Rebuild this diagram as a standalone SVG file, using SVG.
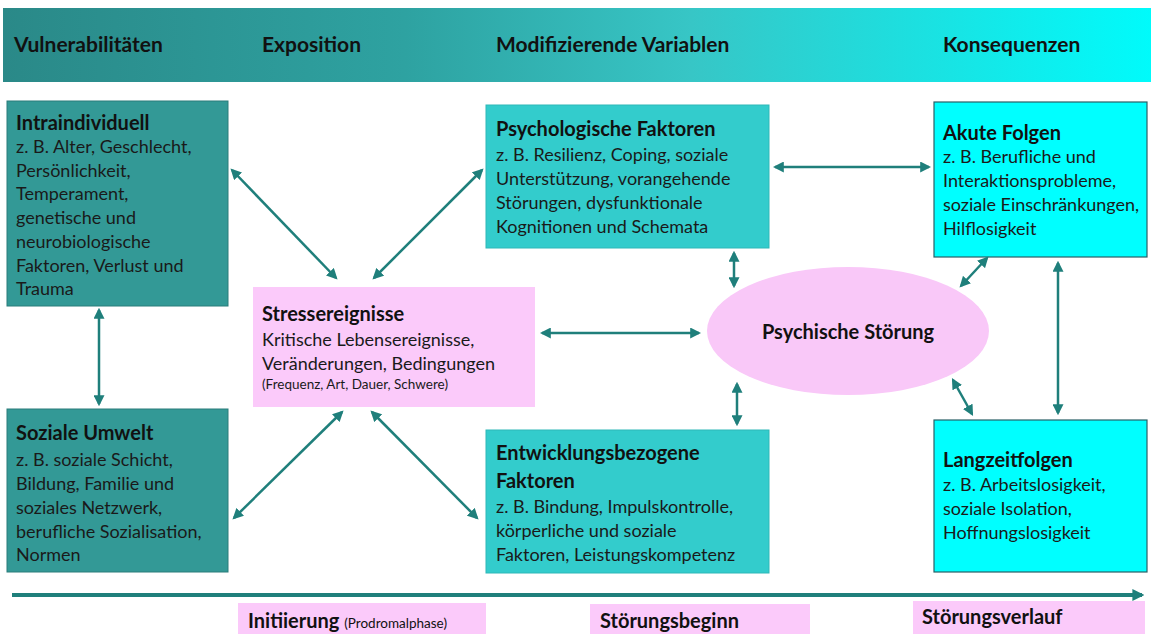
<svg xmlns="http://www.w3.org/2000/svg" width="1151" height="634" viewBox="0 0 1151 634">
<defs>
<linearGradient id="hdr" x1="0" y1="0" x2="1" y2="0">
<stop offset="0" stop-color="#2a8988"/>
<stop offset="0.35" stop-color="#2ea2a1"/>
<stop offset="0.6" stop-color="#37c6c6"/>
<stop offset="1" stop-color="#00fbfb"/>
</linearGradient>
<marker id="ah" viewBox="0 0 10 10" refX="8" refY="5" markerWidth="4.4" markerHeight="4.4" orient="auto-start-reverse" markerUnits="strokeWidth">
<path d="M0,0 L10,5 L0,10 Z" fill="#1f7f7b"/>
</marker>
<marker id="ah2" viewBox="0 0 10 10" refX="8" refY="5" markerWidth="3" markerHeight="3" orient="auto" markerUnits="strokeWidth">
<path d="M0,0 L10,5 L0,10 Z" fill="#1f7f7b"/>
</marker>
</defs>
<style>
text{font-family:Lato,"Liberation Sans",sans-serif;fill:#1a1a1a}
.h{font-size:21px;font-weight:bold;fill:#111}
.t{font-size:20px;font-weight:bold;fill:#111}
.b{font-size:18px}
.s{font-size:13.5px}
.teal{fill:#339996;stroke:#2a7c7a;stroke-width:1}
.tq{fill:#33cccc;stroke:#2fb8b8;stroke-width:1}
.cy{fill:#00ffff;stroke:#2a5f66;stroke-width:1.2}
.pk{fill:#fbcafa;stroke:none}
.c{stroke:#1f7f7b;stroke-width:2.5;fill:none;marker-start:url(#ah);marker-end:url(#ah)}
</style>
<rect width="1151" height="634" fill="#ffffff"/>
<g id="header">
<rect x="3" y="8" width="1148" height="74" fill="url(#hdr)"/>
<text class="h" x="14" y="52">Vulnerabilitäten</text>
<text class="h" x="262" y="52">Exposition</text>
<text class="h" x="496" y="52">Modifizierende Variablen</text>
<text class="h" x="943" y="52">Konsequenzen</text>
</g>
<g id="intraindividuell">
<rect class="teal" x="7" y="101" width="221" height="205"/>
<text class="t" x="16" y="130">Intraindividuell</text>
<text class="b" x="16" y="153">z. B. Alter, Geschlecht,</text>
<text class="b" x="16" y="177">Persönlichkeit,</text>
<text class="b" x="16" y="200">Temperament,</text>
<text class="b" x="16" y="224">genetische und</text>
<text class="b" x="16" y="248">neurobiologische</text>
<text class="b" x="16" y="272">Faktoren, Verlust und</text>
<text class="b" x="16" y="295">Trauma</text>
</g>
<g id="soziale-umwelt">
<rect class="teal" x="7" y="409" width="221" height="163"/>
<text class="t" x="16" y="440">Soziale Umwelt</text>
<text class="b" x="16" y="466">z. B. soziale Schicht,</text>
<text class="b" x="16" y="490">Bildung, Familie und</text>
<text class="b" x="16" y="514">soziales Netzwerk,</text>
<text class="b" x="16" y="538">berufliche Sozialisation,</text>
<text class="b" x="16" y="561">Normen</text>
</g>
<g id="stressereignisse">
<rect class="pk" x="253" y="287" width="282" height="120"/>
<text class="t" x="262" y="321">Stressereignisse</text>
<text class="b" x="262" y="346">Kritische Lebensereignisse,</text>
<text class="b" x="262" y="370">Veränderungen,  Bedingungen</text>
<text class="s" x="262" y="389">(Frequenz, Art, Dauer, Schwere)</text>
</g>
<g id="psychologische-faktoren">
<rect class="tq" x="486" y="105" width="283" height="143"/>
<text class="t" x="496" y="136">Psychologische Faktoren</text>
<text class="b" x="496" y="161">z. B. Resilienz,  Coping, soziale</text>
<text class="b" x="496" y="185">Unterstützung,  vorangehende</text>
<text class="b" x="496" y="209">Störungen,  dysfunktionale</text>
<text class="b" x="496" y="233">Kognitionen und Schemata</text>
</g>
<g id="entwicklungsbezogene-faktoren">
<rect class="tq" x="486" y="430" width="283" height="143"/>
<text class="t" x="496" y="460">Entwicklungsbezogene</text>
<text class="t" x="496" y="488">Faktoren</text>
<text class="b" x="496" y="513">z. B. Bindung, Impulskontrolle,</text>
<text class="b" x="496" y="537">körperliche und soziale</text>
<text class="b" x="496" y="561">Faktoren, Leistungskompetenz</text>
</g>
<g id="psychische-stoerung">
<ellipse cx="848" cy="331" rx="141" ry="64" fill="#f9c8f8"/>
<text class="t" x="848" y="339" text-anchor="middle">Psychische Störung</text>
</g>
<g id="akute-folgen">
<rect class="cy" x="934" y="102" width="213" height="155"/>
<text class="t" x="943" y="140">Akute Folgen</text>
<text class="b" x="943" y="163">z. B. Berufliche  und</text>
<text class="b" x="943" y="187">Interaktionsprobleme,</text>
<text class="b" x="943" y="211">soziale Einschränkungen,</text>
<text class="b" x="943" y="235">Hilflosigkeit</text>
</g>
<g id="langzeitfolgen">
<rect class="cy" x="934" y="420" width="213" height="152"/>
<text class="t" x="943" y="467">Langzeitfolgen</text>
<text class="b" x="943" y="491">z. B. Arbeitslosigkeit,</text>
<text class="b" x="943" y="515">soziale Isolation,</text>
<text class="b" x="943" y="539">Hoffnungslosigkeit</text>
</g>
<g id="connectors">
<line class="c" x1="99" y1="310" x2="99" y2="404"/>
<line class="c" x1="232" y1="170" x2="336" y2="278"/>
<line class="c" x1="374" y1="278" x2="482" y2="170"/>
<line class="c" x1="342" y1="412" x2="234" y2="518"/>
<line class="c" x1="372" y1="412" x2="477" y2="518"/>
<line class="c" x1="542" y1="333" x2="699" y2="333"/>
<line class="c" x1="775" y1="167" x2="929" y2="167"/>
<line class="c" x1="734" y1="253" x2="734" y2="286"/>
<line class="c" x1="737" y1="384" x2="737" y2="424"/>
<line class="c" x1="961" y1="286" x2="987" y2="258"/>
<line class="c" x1="953" y1="380" x2="972" y2="414"/>
<line class="c" x1="1058" y1="263" x2="1058" y2="413"/>
<line x1="12" y1="595" x2="1142" y2="595" stroke="#1f7f7b" stroke-width="4" marker-end="url(#ah2)"/>
</g>
<g id="phase-initiierung">
<rect class="pk" x="238" y="603" width="248" height="31"/>
<text class="t" x="248" y="628">Initiierung <tspan class="s" font-weight="normal">(Prodromalphase)</tspan></text>
</g>
<g id="phase-stoerungsbeginn">
<rect class="pk" x="590" y="604" width="220" height="30"/>
<text class="t" x="600" y="628">Störungsbeginn</text>
</g>
<g id="phase-stoerungsverlauf">
<rect class="pk" x="913" y="601" width="232" height="33"/>
<text class="t" x="922" y="624">Störungsverlauf</text>
</g>
</svg>
